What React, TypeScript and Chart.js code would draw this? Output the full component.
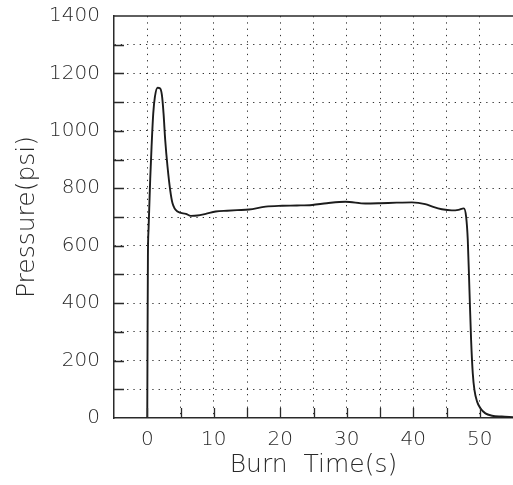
import React, { useEffect, useRef } from "react";
import { Chart, registerables } from "chart.js";

Chart.register(...registerables);

// Burn time (s) and chamber pressure (psi)
const burnTime: number[] = [
  0, 0.05, 0.1, 0.2, 0.3, 0.45, 0.65, 0.9, 1.15, 1.55, 1.9, 2.2, 2.45, 2.7, 3.05,
  3.45, 3.8, 4.55, 5.8, 6.55, 7.55, 8.8, 10.3, 12, 13.5, 15.3, 17.8, 20.3, 22.5,
  24.8, 27, 29.8, 32.8, 35, 37.5, 39.8, 41.8, 43, 44.3, 45.8, 46.8, 47.6, 47.95,
  48.2, 48.45, 48.7, 48.95, 49.2, 49.6, 50.1, 50.85, 51.85, 53.3, 55,
];
const pressure: number[] = [
  0, 300, 560, 660, 730, 835, 945, 1060, 1118, 1150, 1148, 1125, 1061, 968, 875,
  794, 748, 719, 711, 704, 705, 711, 719, 722, 724, 726, 736, 739, 740,
  742, 748, 753, 747, 748, 750, 751, 745, 735, 727, 723, 725, 730, 701,
  620, 446, 272, 156, 98, 57, 34, 16, 8, 5, 3,
];

const xTickLabels: number[] = [0, 10, 20, 30, 40, 50];
const yTickLabels: number[] = [0, 200, 400, 600, 800, 1000, 1200, 1400];

const xTitle = "Burn  Time(s)";
const yTitle = "Pressure(psi)";

const FONT = "'DejaVu Sans', sans-serif";
const INK = "#2a2a2a";

const framePlugin = {
  id: "frame",
  afterDatasetsDraw(chart: any) {
    const { ctx, chartArea: a, scales } = chart;
    const x = scales.x;
    const y = scales.y;
    ctx.save();
    ctx.strokeStyle = INK;
    ctx.lineWidth = 1.5;
    ctx.beginPath();
    ctx.moveTo(a.left, a.top);
    ctx.lineTo(a.right, a.top);
    ctx.stroke();
    ctx.lineWidth = 1.3;
    ctx.beginPath();
    y.ticks.forEach((t: any) => {
      if (t.value <= y.min || t.value >= y.max) return;
      const p = Math.round(y.getPixelForValue(t.value)) + 0.5;
      ctx.moveTo(a.left, p);
      ctx.lineTo(a.left + 10, p);
    });
    x.ticks.forEach((t: any) => {
      if (t.value <= x.min || t.value >= x.max) return;
      const p = Math.round(x.getPixelForValue(t.value)) + 0.5;
      ctx.moveTo(p, a.bottom);
      ctx.lineTo(p, a.bottom - 10);
    });
    ctx.stroke();
    ctx.restore();
  },
};

const noPad = (s: any) => {
  s.paddingLeft = 0;
  s.paddingRight = 0;
  s.paddingTop = 0;
  s.paddingBottom = 0;
};

export default function App() {
  const ref = useRef<HTMLCanvasElement | null>(null);

  useEffect(() => {
    document.body.style.margin = "0";
    const canvas = ref.current!;
    const points = burnTime.map((t, i) => ({ x: t, y: pressure[i] }));
    const chart = new Chart(canvas, {
      type: "line",
      data: {
        datasets: [
          {
            data: points,
            borderColor: "#1c1c1c",
            borderWidth: 1.9,
            pointRadius: 0,
            cubicInterpolationMode: "monotone",
            fill: false,
          },
        ],
      },
      options: {
        responsive: false,
        animation: false,
        layout: { padding: { top: 16, right: 0, left: 0, bottom: 0 } },
        plugins: { legend: { display: false }, tooltip: { enabled: false } },
        scales: {
          x: {
            type: "linear",
            min: -5,
            max: 55,
            afterFit: (s: any) => {
              s.height = 67;
              noPad(s);
            },
            ticks: {
              stepSize: 5,
              autoSkip: false,
              maxRotation: 0,
              padding: 10,
              color: INK,
              font: { family: FONT, size: 20, weight: "300" },
              callback: (v: any) => (xTickLabels.includes(Number(v)) ? String(v) : ""),
            },
            grid: {
              drawTicks: false,
              lineWidth: 1,
              color: (c: any) =>
                c.tick && (c.tick.value <= -5 || c.tick.value >= 55) ? "rgba(0,0,0,0)" : "#333",
            },
            border: { display: true, color: INK, width: 1.5, dash: [1.3, 5] },
            title: {
              display: true,
              text: xTitle,
              color: INK,
              font: { family: FONT, size: 25, weight: "300" },
              padding: { top: 0, bottom: 5 },
            },
          },
          y: {
            min: 0,
            max: 1400,
            afterFit: (s: any) => {
              s.width = 114;
              noPad(s);
            },
            ticks: {
              stepSize: 100,
              autoSkip: false,
              padding: 14,
              color: INK,
              font: { family: FONT, size: 20, weight: "300" },
              callback: (v: any) => (yTickLabels.includes(Number(v)) ? String(v) : ""),
            },
            grid: {
              drawTicks: false,
              lineWidth: 1,
              color: (c: any) =>
                c.tick && (c.tick.value <= 0 || c.tick.value >= 1400) ? "rgba(0,0,0,0)" : "#333",
            },
            border: { display: true, color: INK, width: 1.5, dash: [1.3, 5] },
            title: {
              display: true,
              text: yTitle,
              color: INK,
              font: { family: FONT, size: 25, weight: "300" },
              padding: { top: 12, bottom: 0 },
            },
          },
        },
      },
      plugins: [framePlugin],
    });
    return () => chart.destroy();
  }, []);

  return (
    <div style={{ position: "absolute", left: 0, top: 0, width: 513, height: 485 }}>
      <canvas ref={ref} width={513} height={485} style={{ display: "block" }} />
    </div>
  );
}
